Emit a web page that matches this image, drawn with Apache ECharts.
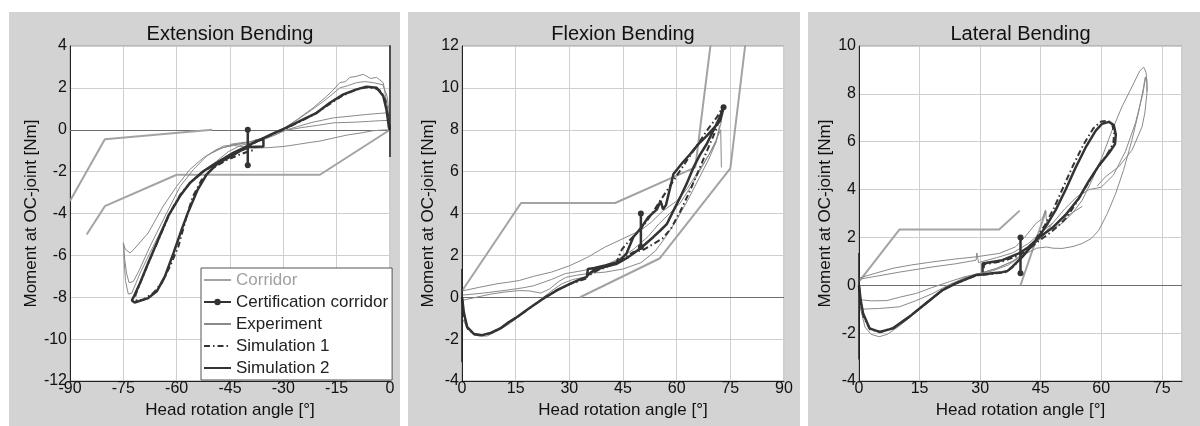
<!DOCTYPE html>
<html>
<head>
<meta charset="utf-8">
<script src="https://cdn.jsdelivr.net/npm/echarts@6/dist/echarts.min.js"></script>
<style>html,body{margin:0;padding:0;background:#fff}#c{width:1200px;height:426px}</style>
</head>
<body>
<div id="c"></div>
<script>
// ---------- titles / axes ----------
var panelTitles = ['Extension Bending', 'Flexion Bending', 'Lateral Bending'];
var xRanges = [[-90, 0], [0, 90], [0, 80]];
var yRanges = [[-12, 4], [-4, 12], [-4, 10]];
var xInterval = 15, yInterval = 2;
var xName = 'Head rotation angle [°]';
var yName = 'Moment at OC-joint [Nm]';
var legendNames = ['Corridor', 'Certification corridor', 'Experiment', 'Simulation 1', 'Simulation 2'];

// ---------- Extension bending ----------
var extCorridorUpper = [[-90,-3.4],[-80.2,-0.45],[-50,0]];
var extCorridorLower = [[-85.3,-5.0],[-80.2,-3.65],[-60,-2.15],[-19.7,-2.15],[0,0]];
var extCert = [[-40,0],[-40,-1.7]];
var extSpike = [[0,4.5],[0,-1.3],[0,0]];
var extSim2 = [[0,0],[-0.3,0.1],[-1.0,0.97],[-1.9,1.61],[-3.75,2.01],[-6.6,2.06],[-9.4,1.93],[-13.1,1.69],[-16.9,1.29],[-20.6,0.81],[-24.4,0.49],[-29.1,0.1],[-32.5,-0.15],[-35.6,-0.4],[-38.4,-0.63],[-41,-0.85],[-44.1,-1.1],[-48.75,-1.58],[-52.5,-1.98],[-56.3,-2.54],[-59.1,-3.18],[-62.4,-4.13],[-65.6,-5.41],[-68.0,-6.36],[-70.3,-7.32],[-72.0,-7.95],[-72.6,-8.15],[-71.8,-8.25],[-70.3,-8.17],[-68.0,-8.04],[-65.6,-7.72],[-63.3,-7.0],[-60.9,-5.89],[-58.6,-4.77],[-56.7,-3.9],[-54.2,-2.9],[-51.6,-2.14],[-48.5,-1.62],[-45,-1.3],[-42,-1.0],[-39.4,-0.82],[-35.6,-0.8],[-35.6,-0.45],[-38,-0.55]];
var extSim1 = [[0,0],[-0.5,0.6],[-1.3,1.4],[-2.5,1.85],[-4.5,2.0],[-7,2.02],[-10,1.88],[-13.5,1.62],[-17,1.22],[-21,0.77],[-25,0.42],[-29.5,0.05],[-33,-0.2],[-36.5,-0.48],[-39,-0.7],[-42,-0.95],[-45,-1.2],[-49,-1.62],[-52.8,-2.05],[-56,-2.5],[-59,-3.1],[-61.9,-3.97],[-65,-5.2],[-67.8,-6.3],[-70,-7.2],[-71.6,-7.9],[-71.3,-8.15],[-69.4,-8.12],[-66.6,-7.8],[-64.2,-7.32],[-61.9,-6.53],[-59.5,-5.57],[-57.2,-4.13],[-55.5,-3.2],[-53,-2.4],[-50,-1.85],[-46,-1.45],[-42.5,-1.2],[-40,-1.05],[-38,-0.95]];
var extExp1 = [[0,0.1],[-0.47,0.17],[-0.94,1.29],[-1.9,2.25],[-3.75,2.5],[-5.5,2.45],[-7.5,2.65],[-9.5,2.55],[-11.3,2.5],[-12.5,2.3],[-14.1,2.25],[-16,1.9],[-17.8,1.6],[-21.6,1.05],[-26,0.5],[-30,0.05],[-35,-0.35],[-40,-0.6],[-44,-0.72],[-48.75,-0.94],[-52.5,-1.34],[-56.3,-1.9],[-60,-2.7],[-63.8,-3.65],[-68,-4.93],[-71.7,-5.65],[-73.1,-5.89],[-74.5,-5.7],[-75,-5.4]];
var extExp2 = [[0,0.5],[-0.8,1.6],[-2,2.15],[-4.7,2.25],[-7,2.3],[-9.4,2.25],[-12,2.1],[-14.1,2.0],[-18,1.45],[-22,0.95],[-26,0.48],[-30,0.05],[-36,-0.45],[-42,-0.68],[-46.9,-0.78],[-51.6,-1.26],[-55.3,-1.9],[-59,-2.7],[-62.8,-3.97],[-67.5,-5.57],[-70.5,-6.7],[-72.2,-7.25],[-73.4,-7.3],[-74.1,-6.85],[-74.6,-6.2],[-75,-5.4]];
var extExp3 = [[-0.5,0.81],[-3,0.78],[-6.6,0.73],[-10,0.67],[-15.9,0.57],[-22,0.35],[-26,0.15],[-29,0.0],[-33,-0.3],[-36,-0.5],[-42,-0.75],[-45.5,-1.05],[-48.75,-1.5],[-53.4,-2.06],[-57.2,-2.7],[-61.9,-3.97],[-66.6,-5.57],[-70.3,-6.85],[-72.6,-7.8],[-73.6,-7.85],[-74.4,-7.2],[-74.8,-6.2],[-75,-5.4]];
var extExp4 = [[0,0.45],[-3,0.43],[-6,0.4],[-10,0.36],[-15.9,0.33],[-20,0.22],[-25,0.1],[-30,-0.05],[-34,-0.35],[-38,-0.55],[-42,-0.62],[-45,-0.7]];
var extExp5 = [[0,0],[-2.5,-0.02],[-5,-0.05],[-8,-0.15],[-12,-0.25],[-16,-0.4],[-20,-0.55],[-23,-0.62],[-26,-0.7],[-30,-0.8],[-34,-0.85],[-38,-0.88],[-41,-0.82],[-44,-0.75],[-47,-0.85],[-50,-1.1]];

// ---------- Flexion bending ----------
var flexCorridorUpper = [[0,0.3],[16.5,4.5],[42.8,4.5],[65.2,6.2],[69.5,12.1]];
var flexCorridorLower = [[33,0],[55.2,1.85],[75,6.15],[79.2,12.1]];
var flexCert = [[50,4.0],[50,2.4]];
var flexCertPeak = [[73.1,9.08]];
var flexSpike = [[0,1.35],[0,-3.1],[0,0]];
var flexSim2 = [[0,0],[0.5,-0.7],[1.4,-1.41],[3.3,-1.75],[5.6,-1.81],[8,-1.7],[10.7,-1.49],[13,-1.2],[15.4,-0.94],[17.8,-0.65],[20,-0.38],[22.8,-0.06],[26.5,0.33],[30.3,0.65],[33,0.85],[34.9,0.97],[35.2,1.35],[37,1.4],[40,1.52],[43.7,1.68],[46,2.1],[47.9,2.88],[50,3.3],[52.1,3.83],[54.5,4.2],[55.5,4.6],[56.2,4.2],[57,4.4],[59.1,5.89],[61.5,6.4],[63.8,6.84],[66,7.3],[68.4,7.71],[70.5,8.1],[72.2,8.43],[73.1,9.05],[71.5,8.4],[68.4,7.32],[66.5,6.8],[64.7,6.2],[63,5.5],[61,4.78],[59,4.1],[57.3,3.51],[55.5,3.2],[53.5,2.88],[50.3,2.4],[48,2.1],[46.5,1.92],[43.3,1.6],[40,1.45],[37,1.3],[35,1.05]];
var flexSim1 = [[0,0],[0.6,-0.9],[1.6,-1.5],[3.5,-1.78],[5.8,-1.82],[8.2,-1.7],[11,-1.45],[15.6,-0.92],[20.2,-0.36],[23,-0.02],[26.7,0.36],[30.5,0.65],[34.5,0.88],[36,1.2],[40,1.45],[43,1.6],[44.7,2.29],[47,2.75],[50,3.25],[52.5,3.85],[55,4.5],[57.3,5.1],[60,5.8],[62.8,6.52],[65.5,7.2],[68.4,7.95],[71.2,8.59],[72.8,9.05],[71,8.0],[68.5,7.0],[66,6.0],[63.5,5.0],[61,4.1],[58.5,3.3],[56,2.8],[53.5,2.55],[50.5,2.25],[47.9,2.16],[45,1.85],[42,1.55],[38,1.3],[35,1.0]];
var flexExp1 = [[0,0.3],[5,0.48],[10,0.65],[13,0.72],[16,0.8],[20,1.0],[25,1.2],[30,1.5],[35,1.9],[40,2.4],[45,2.8],[50,3.2],[53,3.6],[56,4.1],[60,4.6],[63,5.2],[66,6.0],[69,6.8],[71,7.5],[72.3,8.0],[72.4,7.2],[72.5,6.2]];
var flexExp2 = [[0,0.1],[6,0.2],[12.1,0.33],[17,0.45],[20,0.55],[25,0.85],[28.9,1.13],[33,1.25],[36,1.35],[40,1.52],[44.7,1.92],[48,2.3],[52,2.9],[55,3.5],[58,4.0],[61,4.5],[64,5.3],[67,6.2],[69,6.8],[71,7.4],[72,8.2]];
var flexExp3 = [[0,-0.15],[4,0.0],[8,0.15],[12,0.25],[16,0.32],[19,0.3],[22,0.2],[24.5,0.4],[27,0.75],[29,0.95],[32,1.05],[36,1.15],[40,1.2],[45,1.35],[50,1.65],[54,2.2],[57,2.9],[60,3.7],[63,4.6],[66,5.6],[69,6.6],[71,7.4],[72.5,8.4]];
var flexExp4 = [[0,-1.0],[1,-1.3],[2.5,-1.65],[4.5,-1.85],[7,-1.85],[10,-1.6],[13,-1.3],[16,-0.9],[19,-0.5],[22,-0.1],[25,0.3],[28,0.65],[31,0.85],[34,0.95]];

// ---------- Lateral bending ----------
var latCorridorUpper = [[0,0.15],[10,2.33],[34.7,2.33],[39.8,3.12]];
var latCorridorLower = [[40,0],[46.3,3.1]];
var latCert = [[40,2.0],[40,0.5]];
var latSpike = [[0,1.35],[0,-3.1],[0,0]];
var latSim2 = [[0,0],[0.4,-0.6],[1.0,-1.17],[2.6,-1.8],[5.1,-1.95],[8.4,-1.8],[12.5,-1.31],[16.6,-0.75],[20.7,-0.2],[24,0.08],[29,0.43],[30.6,0.45],[33,0.5],[35.5,0.55],[36.8,0.6],[38,0.78],[40.5,1.2],[43.8,1.85],[46.2,2.44],[48.7,3.14],[51.2,4.0],[53.6,4.9],[56.1,5.75],[58.6,6.45],[60.2,6.75],[61.9,6.83],[63.1,6.7],[63.6,6.3],[63.4,5.9],[62,5.55],[59.4,5.0],[56.9,4.35],[54.5,3.65],[51.2,2.95],[47.9,2.4],[44.6,2.0],[42,1.6],[39.6,1.33],[35.5,1.05],[30.6,0.91],[30.6,0.55]];
var latSim1 = [[0,0],[0.5,-0.8],[1.2,-1.35],[2.8,-1.85],[5.3,-1.95],[8.6,-1.78],[12.7,-1.28],[16.8,-0.72],[20.9,-0.17],[24.2,0.1],[29.2,0.42],[33,0.48],[36.5,0.55],[38,0.75],[40.5,1.2],[43.5,1.85],[46,2.5],[48.2,3.2],[50.6,4.1],[53,5.0],[55.5,5.85],[58,6.55],[60,6.85],[61.6,6.88],[62.7,6.75],[63.2,6.35],[63.0,5.95],[61.6,5.5],[59,4.9],[56.5,4.2],[54,3.5],[51.5,2.85],[49.5,2.5],[47,2.15],[44.5,1.85],[42,1.5],[39.6,1.25],[35.5,1.0],[31,0.88],[30.8,0.6]];
var latExp1 = [[0,0.3],[4,0.5],[8.4,0.71],[13,0.85],[18.3,0.98],[24,1.1],[29,1.19],[34.7,1.33],[38.8,1.61],[41,2.0],[43.8,2.58],[45.4,2.79],[46.2,3.15],[46.5,2.6],[48,2.35],[50.3,2.6],[52.8,3.0],[55.3,3.56],[57.7,4.39],[60.2,5.36],[62.7,6.48],[65.1,7.45],[67.6,8.29],[69.5,8.95],[70.5,9.12],[71.1,8.9],[71.3,8.4],[71.3,8.0],[70.8,7.2],[70.1,6.62],[67.6,5.64],[64.3,4.95],[61,4.53],[59,4.15]];
var latExp2 = [[0,-0.6],[3,-0.65],[6.9,-0.64],[10,-0.5],[14.2,-0.34],[18,-0.1],[22.4,0.15],[26,0.35],[30,0.5],[34,0.7],[38,1.0],[41,1.3],[44,1.55],[46.5,1.6],[48,1.55],[50.3,1.54],[53,1.62],[55.3,1.75],[57.5,1.95],[59.4,2.3],[61.5,3.0],[63.5,3.8],[65.5,4.8],[67.5,6.0],[69.2,7.2],[70.4,8.2],[70.9,8.7],[71.3,8.6],[71.4,8.1]];
var latExp3 = [[0,0],[0.4,-1.0],[1.5,-1.75],[3,-2.05],[5,-2.15],[7,-2.05],[10,-1.7],[14,-1.15],[18,-0.6],[22,-0.05],[26,0.3],[30,0.5],[34,0.7],[38,1.0],[42,1.5],[45,2.0],[48,2.6],[51,3.2],[54,3.7],[57,4.0],[60,4.1],[63,4.6],[66,5.6],[68.5,6.8],[70.3,8.0],[71,8.7]];
var latExp4 = [[0,-1.0],[5,-0.97],[10,-0.9],[14,-0.65],[18.3,-0.34],[22,0.0],[26,0.3],[29,0.45],[33,0.6],[37,0.85],[41,1.3],[44,1.8],[47,2.3],[50,2.75],[53,3.05],[55.3,3.3]];
var latExp5 = [[0,0.25],[5,0.4],[10,0.55],[18.3,0.77],[24,0.9],[29,1.05],[29.2,1.35],[29.6,0.95],[34,1.15],[38,1.35],[42,1.75],[45,2.2],[48,2.6]];

// ---------- styling ----------
var FONT = 'Liberation Sans, Arial, sans-serif';
var C_CORR = '#a3a3a3', C_EXP = '#8a8a8a', C_SIM = '#333333';
var grids = [
  {left: 70, top: 46, width: 320, height: 335},
  {left: 462, top: 46, width: 322, height: 335},
  {left: 859, top: 46, width: 323, height: 335}
];
var nameGaps = [26, 22, 22];

function mk(name, data, gi, color, width, type, z) {
  return {
    type: 'line', name: name, data: data, xAxisIndex: gi, yAxisIndex: gi,
    symbol: 'none', showSymbol: false, clip: true, animation: false, silent: true, z: z,
    lineStyle: {color: color, width: width, type: type || 'solid'},
    itemStyle: {color: color}
  };
}
function cert(data, gi) {
  return {
    type: 'line', name: 'Certification corridor', data: data, xAxisIndex: gi, yAxisIndex: gi,
    symbol: 'circle', symbolSize: 6, showSymbol: true, clip: true, animation: false, silent: true, z: 9,
    lineStyle: {color: '#333', width: 2.5}, itemStyle: {color: '#333'}
  };
}
var DASHDOT = [6, 3, 1.5, 3];

var panels = [
  {corr: [extCorridorUpper, extCorridorLower], cert: [extCert], exp: [extExp1, extExp2, extExp3, extExp4, extExp5], sim1: extSim1, sim2: extSim2, spike: extSpike},
  {corr: [flexCorridorUpper, flexCorridorLower], cert: [flexCert, flexCertPeak], exp: [flexExp1, flexExp2, flexExp3, flexExp4], sim1: flexSim1, sim2: flexSim2, spike: flexSpike},
  {corr: [latCorridorUpper, latCorridorLower], cert: [latCert], exp: [latExp1, latExp2, latExp3, latExp4, latExp5], sim1: latSim1, sim2: latSim2, spike: latSpike}
];

var series = [];
var xAxes = [], yAxes = [], titles = [], graphics = [];
panels.forEach(function (p, gi) {
  p.corr.forEach(function (d, k) {
    var s = mk('Corridor', d, gi, C_CORR, 2, 'solid', 3);
    if (k === 0) {
      s.markLine = {silent: true, symbol: ['none', 'none'], label: {show: false},
        lineStyle: {color: '#6e6e6e', width: 1, type: 'solid'}, data: [{yAxis: 0}], z: 2, animation: false};
    }
    series.push(s);
  });
  p.cert.forEach(function (d) { series.push(cert(d, gi)); });
  p.exp.forEach(function (d) { series.push(mk('Experiment', d, gi, C_EXP, 1, 'solid', 4)); });
  series.push(mk('Simulation 1', p.sim1, gi, C_SIM, 2, DASHDOT, 6));
  series.push(mk('Simulation 2', p.sim2, gi, C_SIM, 2.5, 'solid', 7));
  series.push(mk('Simulation 2', p.spike, gi, '#222', 1.5, 'solid', 7));

  var g = grids[gi];
  xAxes.push({
    type: 'value', gridIndex: gi, min: xRanges[gi][0], max: xRanges[gi][1], interval: xInterval,
    name: xName, nameLocation: 'middle', nameGap: 17,
    nameTextStyle: {fontSize: 17, color: '#111', fontFamily: FONT},
    axisLine: {show: true, onZero: false, lineStyle: {color: '#222', width: 1}},
    axisTick: {show: false},
    axisLabel: {fontSize: 16, color: '#111', fontFamily: FONT, margin: 0, showMaxLabel: gi !== 2},
    splitLine: {show: true, lineStyle: {color: '#cfcfcf', width: 1}}
  });
  yAxes.push({
    type: 'value', gridIndex: gi, min: yRanges[gi][0], max: yRanges[gi][1], interval: yInterval,
    name: yName, nameLocation: 'middle', nameGap: nameGaps[gi], nameRotate: 90,
    nameTextStyle: {fontSize: 17, color: '#111', fontFamily: FONT},
    axisLine: {show: true, onZero: false, lineStyle: {color: '#222', width: 1}},
    axisTick: {show: false},
    axisLabel: {fontSize: 16, color: '#111', fontFamily: FONT, margin: 3},
    splitLine: {show: true, lineStyle: {color: '#cfcfcf', width: 1}}
  });
  titles.push({
    text: panelTitles[gi], left: g.left + g.width / 2, top: 24, textAlign: 'center', padding: 0,
    textStyle: {fontSize: 20, fontWeight: 'normal', color: '#111', fontFamily: FONT}
  });
});

var panelBg = [[9, 391], [408, 392], [808, 392]];
panelBg.forEach(function (b) {
  graphics.push({type: 'rect', left: b[0], top: 12, shape: {x: 0, y: 0, width: b[1], height: 414},
    style: {fill: '#d3d3d3'}, z: -10, silent: true});
});

var noDot = {color: 'rgba(0,0,0,0)', borderWidth: 0, opacity: 0};
var chart = echarts.init(document.getElementById('c'), null, {renderer: 'canvas'});
chart.setOption({
  backgroundColor: '#ffffff',
  animation: false,
  graphic: graphics,
  title: titles,
  grid: grids.map(function (g) {
    return {left: g.left, top: g.top, width: g.width, height: g.height, show: true,
      backgroundColor: '#ffffff', borderColor: '#9a9a9a', borderWidth: 1, containLabel: false, outerBoundsMode: 'none'};
  }),
  xAxis: xAxes,
  yAxis: yAxes,
  legend: {
    show: true, orient: 'vertical', left: 201, top: 268, padding: [3, 4, 3, 2],
    backgroundColor: '#ffffff', borderColor: '#555', borderWidth: 1,
    itemWidth: 27, itemHeight: 8, itemGap: 4, selectedMode: false,
    textStyle: {fontSize: 17, color: '#222', fontFamily: FONT, lineHeight: 18},
    data: [
      {name: legendNames[0], textStyle: {color: '#a0a0a0'}, itemStyle: noDot},
      {name: legendNames[1]},
      {name: legendNames[2], itemStyle: noDot},
      {name: legendNames[3], itemStyle: noDot},
      {name: legendNames[4], itemStyle: noDot}
    ]
  },
  series: series
});
</script>
</body>
</html>
